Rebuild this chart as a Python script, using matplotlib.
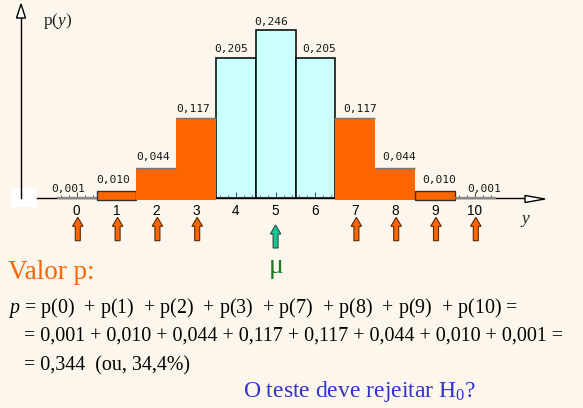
import numpy as np
import matplotlib
matplotlib.use("Agg")
import matplotlib.pyplot as plt
from matplotlib.patches import Rectangle, Polygon, FancyArrow
from matplotlib.ticker import FixedLocator

# ---------------- data ----------------
y_values = [0, 1, 2, 3, 4, 5, 6, 7, 8, 9, 10]
probs = [0.001, 0.010, 0.044, 0.117, 0.205, 0.246, 0.205, 0.117, 0.044, 0.010, 0.001]
prob_labels = ["0,001", "0,010", "0,044", "0,117", "0,205", "0,246",
               "0,205", "0,117", "0,044", "0,010", "0,001"]
reject_region = [0, 1, 2, 3, 7, 8, 9, 10]
mu = 5
tick_labels = [str(v) for v in y_values]

title_text = "Valor p:"
line1 = r"$\mathit{p}$ = p(0)  + p(1)  + p(2)  + p(3)  + p(7)  + p(8)  + p(9)  + p(10) ="
line2 = "= 0,001 + 0,010 + 0,044 + 0,117 + 0,117 + 0,044 + 0,010 + 0,001 ="
line3 = "= 0,344  (ou, 34,4%)"
question = r"O teste deve rejeitar H$_0$?"

# ---------------- style ----------------
plt.rcParams['mathtext.fontset'] = 'custom'
plt.rcParams['mathtext.rm'] = 'Liberation Serif'
plt.rcParams['mathtext.it'] = 'Liberation Serif:italic'

BG = "#FDF6EC"
ORANGE = "#FF6600"
CYAN = "#CCFFFF"
BLUE_TXT = "#3333CC"
GREEN_TXT = "#1A7A1A"
GREEN_ARROW = "#10C898"

W, H = 583, 408
fig = plt.figure(figsize=(W / 100, H / 100), dpi=100, facecolor=BG)

# pixel geometry
x0_px, unit_px = 76.6, 39.8     # centre of bar 0, pixels per unit
base_px, ppu = 198.0, 683.0      # baseline, pixels per probability unit
left_px, right_px, top_px = 21.0, 545.0, 4.0

ax = fig.add_axes([left_px / W, (H - base_px) / H,
                   (right_px - left_px) / W, (base_px - top_px) / H])
ax.set_facecolor("none")
ax.set_xlim((left_px - x0_px) / unit_px, (right_px - x0_px) / unit_px)
ax.set_ylim(0, (base_px - top_px) / ppu)

def dx(px):  # pixel x -> data x
    return (px - x0_px) / unit_px

def dy(py):  # pixel y (from top) -> data y
    return (base_px - py) / ppu

for s in ("top", "right"):
    ax.spines[s].set_visible(False)
ax.spines["left"].set_bounds(0, dy(18))
ax.spines["bottom"].set_bounds(dx(37), dx(525))
ax.spines["left"].set_linewidth(1.0)
ax.spines["bottom"].set_linewidth(1.0)
ax.set_yticks([])

# white box at the origin
ax.add_patch(Rectangle((11 / W, 1 - 207 / H), 26 / W, 19 / H,
                       transform=fig.transFigure, clip_on=False,
                       fc="white", ec="none", zorder=2))

# axis heads (hollow triangles)
ax.add_patch(Polygon([[dx(21 - 4.5), dy(18)], [dx(21 + 4.5), dy(18)], [dx(21), dy(4)]],
                     closed=True, fc="white", ec="black", lw=1, clip_on=False, zorder=4))
ax.add_patch(Polygon([[dx(525), dy(195.5)], [dx(525), dy(202.5)], [dx(545), dy(199)]],
                     closed=True, fc="white", ec="black", lw=1, clip_on=False, zorder=4))

# ticks
ax.set_xticks(y_values)
ax.set_xticklabels(tick_labels, fontfamily="Liberation Sans", fontsize=9.8)
minor = [v for v in np.arange(-0.4, 10.45, 0.2) if abs(v - round(v)) > 1e-6]
ax.xaxis.set_minor_locator(FixedLocator(minor))
ax.tick_params(axis="x", which="major", direction="in", length=4, width=0.8,
               color="#555555", pad=4)
ax.tick_params(axis="x", which="minor", direction="in", length=2.2, width=0.8,
               color="#666666")

# bars
for k, p in zip(y_values, probs):
    if k in reject_region:
        if p >= 0.005:
            bottom = -2.4 / ppu
            edge = "#333333" if p < 0.02 else "none"
            ax.bar(k, p - bottom, bottom=bottom, width=1.0, color=ORANGE,
                   edgecolor=edge, linewidth=1.0, zorder=3, clip_on=False)
            if p >= 0.02:
                ax.hlines(p, k - 0.5, k + 0.5, color="#777777", lw=1.0, zorder=4)
        else:
            ax.bar(k, p, width=1.0, color=ORANGE, edgecolor="#888888",
                   linewidth=0.9, zorder=3, clip_on=False)
    else:
        ax.bar(k, p, width=1.0, color=CYAN, edgecolor="#111111",
               linewidth=1.2, zorder=1)

# value labels
label_dx = {0: -8, 1: -3, 2: -3, 3: -3, 4: -5, 5: -4.5, 6: 4, 7: 4.6, 8: 4.6, 9: 4, 10: 9.5}
label_dy = {0: 8, 1: 11, 2: 11, 3: 9.3, 4: 8.6, 5: 7.6, 6: 8.6, 7: 9.3, 8: 11, 9: 11.5, 10: 8}
for k, p, lab in zip(y_values, probs, prob_labels):
    ax.annotate(lab, (k, p), xytext=(label_dx[k], label_dy[k]),
                textcoords="offset pixels", ha="center", va="center",
                fontfamily="DejaVu Sans Mono", fontsize=8.1, color="#1a1a1a",
                zorder=5, annotation_clip=False)

# arrows under the axis
for k in reject_region:
    ax.add_patch(FancyArrow(k + 0.03, dy(240.7), 0, dy(217.3) - dy(240.7),
                            width=5 / unit_px, head_width=10.5 / unit_px,
                            head_length=9 / ppu, length_includes_head=True,
                            fc=ORANGE, ec="#5a2a00", lw=0.8, clip_on=False, zorder=5))
ax.add_patch(FancyArrow(mu, dy(248), 0, dy(225) - dy(248),
                        width=5 / unit_px, head_width=10.5 / unit_px,
                        head_length=9 / ppu, length_includes_head=True,
                        fc=GREEN_ARROW, ec="#2f4f3f", lw=0.8, clip_on=False, zorder=5))

# axis labels
def fpx(x, y):
    return x / W, 1 - y / H

fig.text(*fpx(58, 21), r"p($\mathit{y}$)", fontfamily="Liberation Serif",
         fontsize=12.5, ha="center", va="center", color="#222222")
fig.text(*fpx(526, 221), r"$\mathit{y}$", fontfamily="Liberation Serif",
         fontsize=12.5, ha="center", va="center", color="#222222")
fig.text(*fpx(276, 273), "μ", fontfamily="Liberation Serif", fontsize=20,
         ha="center", va="baseline", color=GREEN_TXT)

# lower text block
fig.text(*fpx(8, 279.3), title_text, fontfamily="Liberation Serif",
         fontsize=19.5, color=ORANGE, ha="left", va="baseline")
fig.text(*fpx(8.3, 313.3), line1, fontfamily="Liberation Serif",
         fontsize=14.4, color="black", ha="left", va="baseline")
fig.text(*fpx(24, 340.7), line2, fontfamily="Liberation Serif",
         fontsize=14.4, color="black", ha="left", va="baseline")
fig.text(*fpx(24, 370), line3, fontfamily="Liberation Serif",
         fontsize=14.4, color="black", ha="left", va="baseline")
fig.text(*fpx(243, 396.7), question, fontfamily="Liberation Serif",
         fontsize=17, color=BLUE_TXT, ha="left", va="baseline")

fig.savefig("out.png", dpi=100, facecolor=BG)
